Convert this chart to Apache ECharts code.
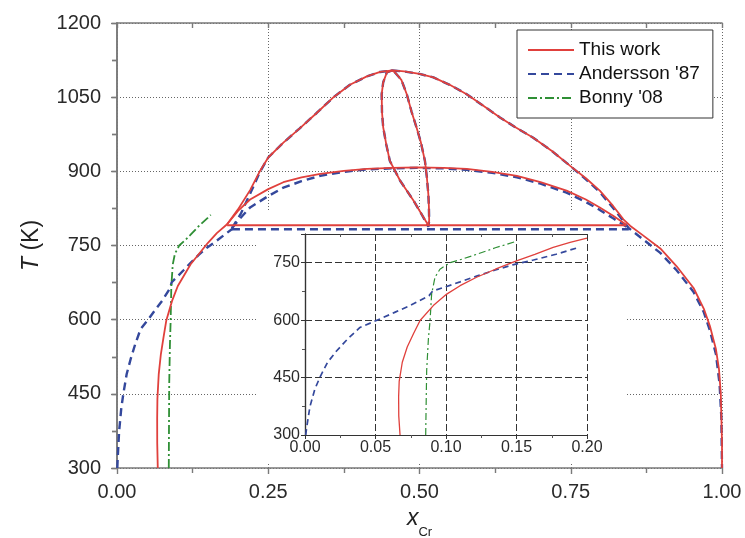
<!DOCTYPE html>
<html><head><meta charset="utf-8">
<script src="https://cdn.jsdelivr.net/npm/echarts@6/dist/echarts.min.js"></script>
<style>html,body{margin:0;padding:0;background:#fff}#c{width:745px;height:538px}</style>
</head><body><div id="c"></div>
<script>
// ---------- tick labels / ranges ----------
const mainXTicks = [0, 0.25, 0.5, 0.75, 1.0];
const mainYTicks = [300, 450, 600, 750, 900, 1050, 1200];
const insetXTicks = [0, 0.05, 0.10, 0.15, 0.20];
const insetYTicks = [300, 450, 600, 750];
const legendNames = ['This work', "Andersson '87", "Bonny '08"];

// ---------- This work (red) ----------
const redLeftSolvus = [[0.0674,300],[0.0665,350],[0.0664,400],[0.0668,440],[0.069,490],[0.0725,530],[0.077,565],[0.0816,599],[0.091,638],[0.1005,668],[0.1217,712],[0.150,755],[0.165,775],[0.182,793]];
const redTie = [[0.182,791],[0.842,791]];
const redUpperDome = [[0.182,793],[0.20,823],[0.22,862],[0.236,900],[0.25,928],[0.275,958],[0.302,987],[0.33,1018],[0.358,1050],[0.385,1075],[0.413,1092],[0.435,1101],[0.455,1104],[0.475,1102],[0.50,1097],[0.523,1090],[0.55,1075],[0.578,1056],[0.605,1033],[0.633,1009],[0.66,988],[0.688,968],[0.72,940],[0.749,911],[0.775,886],[0.798,861],[0.82,830],[0.837,803],[0.848,790],[0.87,770],[0.898,744],[0.925,708],[0.953,664],[0.97,622],[0.98,587],[0.99,540],[0.995,500],[0.998,450],[0.999,400],[1.0,350],[1.0,300]];
const redMiddleDome = [[0.182,793],[0.20,820],[0.22,843],[0.25,864],[0.275,878],[0.305,888],[0.336,895],[0.375,901],[0.413,905],[0.455,907],[0.495,908],[0.54,907],[0.578,905],[0.62,899],[0.661,891],[0.70,878],[0.743,861],[0.775,843],[0.798,827],[0.82,810],[0.842,792]];
const redLens = [[0.455,1104],[0.446,1100],[0.440,1080],[0.4375,1056],[0.438,1020],[0.440,989],[0.445,955],[0.451,921],[0.468,881],[0.49,841],[0.505,810],[0.5146,791],[0.516,800],[0.5155,830],[0.5146,854],[0.512,890],[0.509,921],[0.502,960],[0.495,989],[0.487,1020],[0.479,1056],[0.470,1085],[0.4595,1100],[0.455,1104]];
const redInset = [[0.0674,300],[0.0665,350],[0.0664,400],[0.0668,440],[0.069,490],[0.0725,530],[0.077,565],[0.0816,599],[0.091,638],[0.1005,668],[0.110,690],[0.1217,712],[0.135,733],[0.150,755],[0.163,772],[0.176,790],[0.188,803],[0.200,814]];

// ---------- Andersson '87 (blue dashed) ----------
const blueLeftSolvus = [[0.0005,300],[0.0012,320],[0.0035,374],[0.007,420],[0.0106,451],[0.016,490],[0.0225,520],[0.030,550],[0.039,581],[0.0532,603],[0.064,621],[0.0745,638],[0.088,664],[0.0905,676],[0.1005,688],[0.110,700],[0.1217,715],[0.135,731],[0.148,745],[0.162,757],[0.178,772],[0.192,785]];
const blueTie = [[0.19,783],[0.846,783]];
const blueUpperDome = [[0.19,785],[0.205,815],[0.222,860],[0.236,898],[0.25,928],[0.275,958],[0.302,987],[0.33,1018],[0.358,1050],[0.385,1075],[0.413,1092],[0.435,1101],[0.455,1104],[0.475,1102],[0.50,1097],[0.523,1090],[0.55,1075],[0.578,1056],[0.605,1033],[0.633,1009],[0.66,988],[0.688,968],[0.72,940],[0.749,911],[0.775,884],[0.798,858],[0.82,826],[0.846,785],[0.87,762],[0.898,735],[0.925,700],[0.953,656],[0.97,615],[0.98,578],[0.99,530],[0.996,470],[0.999,400],[1.0,300]];
const blueMiddleDome = [[0.19,785],[0.20,800],[0.22,827],[0.25,850],[0.275,867],[0.305,880],[0.336,891],[0.375,899],[0.413,904],[0.455,906],[0.495,907],[0.54,906],[0.578,903],[0.62,897],[0.661,888],[0.70,875],[0.743,857],[0.775,838],[0.798,822],[0.82,805],[0.846,785]];
const blueLens = [[0.455,1104],[0.446,1100],[0.440,1080],[0.4375,1056],[0.438,1020],[0.440,989],[0.445,955],[0.451,921],[0.468,881],[0.49,841],[0.505,810],[0.5146,788],[0.516,800],[0.5155,830],[0.5146,854],[0.512,890],[0.509,921],[0.502,960],[0.495,989],[0.487,1020],[0.479,1056],[0.470,1085],[0.4595,1100],[0.455,1104]];
const blueInset = [[0.0005,300],[0.0012,320],[0.0035,374],[0.007,420],[0.0106,451],[0.016,490],[0.0225,520],[0.030,550],[0.039,581],[0.0532,603],[0.064,621],[0.0745,638],[0.088,664],[0.0905,676],[0.1005,688],[0.110,700],[0.1217,715],[0.135,731],[0.148,745],[0.162,757],[0.178,772],[0.195,791]];

// ---------- Bonny '08 (green dash-dot) ----------
const greenMain = [[0.0856,300],[0.0860,400],[0.0863,469],[0.0875,550],[0.0887,599],[0.0898,668],[0.0922,712],[0.0957,733],[0.1028,750],[0.112,760],[0.1217,772],[0.135,789],[0.150,806],[0.155,812]];
const greenInset = [[0.0856,300],[0.0860,400],[0.0863,469],[0.0875,550],[0.0887,599],[0.0898,668],[0.0922,712],[0.0957,733],[0.1028,750],[0.112,760],[0.1217,772],[0.135,789],[0.150,806]];

// ---------- styles ----------
const FONT = "'Liberation Sans', Arial, sans-serif";
const RED = '#e0403c', BLUE = '#34489c', GREEN = '#2f8f35';
const redStyle = {color: RED, width: 1.8, type: 'solid'};
const blueStyle = {color: BLUE, width: 2.4, type: [8, 5]};
const greenStyle = {color: GREEN, width: 1.8, type: [9, 3, 2, 3]};
const redStyleI = {color: RED, width: 1.3, type: 'solid'};
const blueStyleI = {color: BLUE, width: 1.7, type: [6, 4]};
const greenStyleI = {color: GREEN, width: 1.2, type: [7, 3, 2, 3]};

function mk(name, data, ls, xi, yi, z) {
  return {name: name, type: 'line', data: data, xAxisIndex: xi, yAxisIndex: yi,
    symbol: 'none', showSymbol: false, smooth: false, lineStyle: ls,
    itemStyle: {color: ls.color}, z: z, silent: true, clip: true};
}

const series = [
  mk(legendNames[1], blueLeftSolvus, blueStyle, 0, 0, 2),
  mk(legendNames[1], blueTie, blueStyle, 0, 0, 2),
  mk(legendNames[1], blueUpperDome, blueStyle, 0, 0, 2),
  mk(legendNames[1], blueMiddleDome, blueStyle, 0, 0, 2),
  mk(legendNames[1], blueLens, blueStyle, 0, 0, 2),
  mk(legendNames[2], greenMain, greenStyle, 0, 0, 2),
  mk(legendNames[0], redLeftSolvus, redStyle, 0, 0, 3),
  mk(legendNames[0], redTie, redStyle, 0, 0, 3),
  mk(legendNames[0], redUpperDome, redStyle, 0, 0, 3),
  mk(legendNames[0], redMiddleDome, redStyle, 0, 0, 3),
  mk(legendNames[0], redLens, redStyle, 0, 0, 3),
  mk(legendNames[1], blueInset, blueStyleI, 2, 2, 5),
  mk(legendNames[2], greenInset, greenStyleI, 2, 2, 5),
  mk(legendNames[0], redInset, redStyleI, 2, 2, 5)
];

const AX = '#7a7a7a', LBL = '#2a2a2a';
const fmt2 = v => v.toFixed(2);

const option = {
  animation: false,
  backgroundColor: '#fff',
  textStyle: {fontFamily: FONT},
  grid: [
    {left: 117, right: 23, top: 23, bottom: 70, containLabel: false, outerBoundsMode: 'none'},
    {left: 305, right: 158, top: 234, bottom: 103, containLabel: false, outerBoundsMode: 'none'}
  ],
  legend: {
    data: legendNames, orient: 'vertical', left: 517, top: 30,
    padding: [10, 13, 10, 10], itemGap: 4, itemWidth: 46, itemHeight: 14,
    backgroundColor: '#fff', borderColor: '#333', borderWidth: 1,
    itemStyle: {opacity: 0, borderWidth: 0},
    textStyle: {fontFamily: FONT, fontSize: 19, color: '#111', lineHeight: 20},
    z: 10, selectedMode: false
  },
  graphic: [{type: 'rect', shape: {x: 258, y: 210, width: 367, height: 252}, style: {fill: '#fff'}, z: 1, silent: true}],
  xAxis: [
    {type: 'value', gridIndex: 0, min: 0, max: 1, interval: 0.25, position: 'bottom', z: 0,
     axisLine: {lineStyle: {color: AX, width: 1.6}},
     axisTick: {inside: false, length: 6, lineStyle: {color: AX, width: 1.4}},
     minorTick: {show: true, splitNumber: 2, length: 5, lineStyle: {color: AX, width: 1.4}},
     axisLabel: {fontSize: 20, color: LBL, margin: 14, fontFamily: FONT, formatter: fmt2},
     splitLine: {show: true, lineStyle: {color: '#666', width: 1, type: [1, 2]}},
     name: '{i|x}{s|Cr}', nameLocation: 'middle', nameGap: 30,
     nameTextStyle: {rich: {
       i: {fontSize: 23, fontStyle: 'italic', color: '#222', fontFamily: FONT, padding: [0, 0, 14, 0]},
       s: {fontSize: 13, color: '#222', fontFamily: FONT, padding: [14, 0, 0, 0]}
     }}},
    {type: 'value', gridIndex: 0, min: 0, max: 1, interval: 0.25, position: 'top', z: 0,
     axisLine: {lineStyle: {color: AX, width: 1.6}},
     axisTick: {inside: true, length: 5, lineStyle: {color: AX, width: 1.4}},
     minorTick: {show: true, splitNumber: 2, length: 5, lineStyle: {color: AX, width: 1.4}},
     axisLabel: {show: false}, splitLine: {show: false}},
    {type: 'value', gridIndex: 1, min: 0, max: 0.2, interval: 0.05, position: 'bottom', z: 3,
     axisLine: {lineStyle: {color: '#333', width: 1.2}},
     axisTick: {inside: false, length: 4, lineStyle: {color: '#333'}},
     minorTick: {show: true, splitNumber: 2, length: 3, lineStyle: {color: '#555'}},
     axisLabel: {fontSize: 16, color: LBL, margin: 5, fontFamily: FONT, formatter: fmt2},
     splitLine: {show: true, lineStyle: {color: '#333', width: 1, type: [7, 3]}}},
    {type: 'value', gridIndex: 1, min: 0, max: 0.2, interval: 0.05, position: 'top', z: 3,
     axisLine: {lineStyle: {color: '#333', width: 1.2}},
     axisTick: {inside: true, length: 3, lineStyle: {color: '#333'}},
     minorTick: {show: true, splitNumber: 2, length: 3, lineStyle: {color: '#555'}},
     axisLabel: {show: false}, splitLine: {show: false}}
  ],
  yAxis: [
    {type: 'value', gridIndex: 0, min: 300, max: 1200, interval: 150, position: 'left', z: 0,
     axisLine: {show: true, lineStyle: {color: AX, width: 1.6}},
     axisTick: {show: true, inside: false, length: 6, lineStyle: {color: AX, width: 1.4}},
     minorTick: {show: true, splitNumber: 2, length: 5, lineStyle: {color: AX, width: 1.4}},
     axisLabel: {fontSize: 20, color: LBL, margin: 16, fontFamily: FONT, formatter: v => String(v)},
     splitLine: {show: true, lineStyle: {color: '#666', width: 1, type: [1, 2]}},
     name: '{i|T} (K)', nameLocation: 'middle', nameGap: 74, nameRotate: 90,
     nameTextStyle: {fontSize: 23, color: '#222', fontFamily: FONT,
       rich: {i: {fontSize: 23, fontStyle: 'italic', color: '#222', fontFamily: FONT}}}},
    {type: 'value', gridIndex: 0, min: 300, max: 1200, interval: 150, position: 'right', z: 0,
     axisLine: {show: true, lineStyle: {color: AX, width: 1.6}},
     axisTick: {show: true, inside: true, length: 5, lineStyle: {color: AX, width: 1.4}},
     minorTick: {show: true, splitNumber: 2, length: 5, lineStyle: {color: AX, width: 1.4}},
     axisLabel: {show: false}, splitLine: {show: false}},
    {type: 'value', gridIndex: 1, min: 300, max: 825, interval: 150, position: 'left', z: 3,
     axisLine: {show: true, lineStyle: {color: '#333', width: 1.2}},
     axisTick: {show: true, inside: false, length: 4, lineStyle: {color: '#333'}},
     minorTick: {show: true, splitNumber: 2, length: 3, lineStyle: {color: '#555'}},
     axisLabel: {fontSize: 16, color: LBL, margin: 5, fontFamily: FONT,
       formatter: v => (insetYTicks.indexOf(v) >= 0 ? String(v) : '')},
     splitLine: {show: true, lineStyle: {color: '#333', width: 1, type: [7, 3]}}},
    {type: 'value', gridIndex: 1, min: 300, max: 825, interval: 150, position: 'right', z: 3,
     axisLine: {show: true, lineStyle: {color: '#333', width: 1.2}},
     axisTick: {show: true, inside: true, length: 3, lineStyle: {color: '#333'}},
     minorTick: {show: true, splitNumber: 2, length: 3, lineStyle: {color: '#555'}},
     axisLabel: {show: false}, splitLine: {show: false}}
  ],
  series: series
};

const chart = echarts.init(document.getElementById('c'), null, {renderer: 'canvas'});
chart.setOption(option);
</script></body></html>
